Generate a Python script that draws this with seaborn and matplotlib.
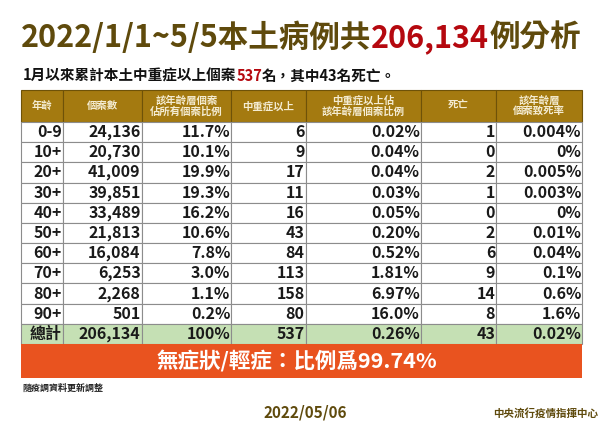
import matplotlib
matplotlib.use('Agg')
import matplotlib.pyplot as plt
import seaborn as sns

sns.set_theme(style='white')
plt.rcParams['font.family'] = ['Noto Sans CJK TC', 'DejaVu Sans']

headers = ['年齡', '個案數', '該年齡層個案\n佔所有個案比例', '中重症以上',
           '中重症以上佔\n該年齡層個案比例', '死亡', '該年齡層\n個案致死率']
ages = ['0-9', '10+', '20+', '30+', '40+', '50+', '60+', '70+', '80+', '90+', '總計']
cases = ['24,136', '20,730', '41,009', '39,851', '33,489', '21,813', '16,084', '6,253', '2,268', '501', '206,134']
case_share = ['11.7%', '10.1%', '19.9%', '19.3%', '16.2%', '10.6%', '7.8%', '3.0%', '1.1%', '0.2%', '100%']
severe = ['6', '9', '17', '11', '16', '43', '84', '113', '158', '80', '537']
severe_share = ['0.02%', '0.04%', '0.04%', '0.03%', '0.05%', '0.20%', '0.52%', '1.81%', '6.97%', '16.0%', '0.26%']
deaths = ['1', '0', '2', '1', '0', '2', '6', '9', '14', '8', '43']
fatality = ['0.004%', '0%', '0.005%', '0.003%', '0%', '0.01%', '0.04%', '0.1%', '0.6%', '1.6%', '0.02%']

BROWN = '#5f4a0c'
RED = '#b5080f'
GOLD = '#a47a10'
GREEN = '#c5e0b4'
ORANGE = '#e9531f'

W, H = 600, 425
col_edges = [21, 62.5, 141.5, 231, 305.5, 420.5, 496, 582]
top, head_bottom, bottom = 90, 122, 344
row_h = (bottom - head_bottom) / 11


def ax_x(x):
    return x / W


def ax_y(y):
    return 1 - y / H


fig = plt.figure(figsize=(6, 4.25), dpi=100, facecolor='white')
ax = fig.add_axes([0, 0, 1, 1])
ax.set_axis_off()
ax.set_xlim(0, 1)
ax.set_ylim(0, 1)


def coloured_line(parts, x, y, size):
    # lay pieces end to end, each starts where the last one stopped
    for txt, colour in parts:
        t = ax.text(ax_x(x), ax_y(y), txt, color=colour, fontsize=size, fontweight='bold',
                    ha='left', va='center')
        box = t.get_window_extent(fig.canvas.get_renderer())
        x += box.width


coloured_line([('2022/1/1~5/5本土病例共', BROWN), ('206,134', RED), ('例分析', BROWN)], 21, 38, 22)
coloured_line([('1月以來累計本土中重症以上個案', '#111111'), ('537', RED), ('名，其中43名死亡。', '#111111')], 23, 76, 10.5)

body = [list(r) for r in zip(ages, cases, case_share, severe, severe_share, deaths, fatality)]
widths = [(col_edges[i + 1] - col_edges[i]) / W for i in range(7)]
tbl = ax.table(cellText=[headers] + body, colWidths=widths, cellLoc='right',
               bbox=[ax_x(21), ax_y(bottom), (582 - 21) / W, (bottom - top) / H])
tbl.auto_set_font_size(False)

for (r, c), cell in tbl.get_celld().items():
    cell.set_height((head_bottom - top if r == 0 else row_h) / H)
    cell.set_edgecolor('#8c8c8c')
    cell.set_linewidth(0.8)
    cell.PAD = 0.8 / (col_edges[c + 1] - col_edges[c])
    txt = cell.get_text()
    txt.set_fontweight('bold')
    if r == 0:
        cell.set_facecolor(GOLD)
        cell.set_edgecolor('#6e5208')
        txt.set_color('#f4ecd2')
        txt.set_fontsize(7.5)
        txt.set_linespacing(1.15)
        txt.set_ha('center')
        cell._loc = 'center'
    else:
        cell.set_facecolor(GREEN if r == 11 else 'white')
        txt.set_color('#1a1a1a')
        txt.set_fontsize(11.5)
        if c == 0:
            cell._loc = 'center'

ax.add_patch(plt.Rectangle((ax_x(21), ax_y(378)), 561 / W, 34 / H, color=ORANGE, lw=0))
ax.text(ax_x(297), ax_y(361), '無症狀/輕症：比例爲99.74%', color='white', fontsize=15.5,
        fontweight='bold', ha='center', va='center')
ax.text(ax_x(22), ax_y(388), '隨疫調資料更新調整', color='#222222', fontsize=6.5,
        fontweight='bold', ha='left', va='center')
ax.text(ax_x(305), ax_y(413), '2022/05/06', color=BROWN, fontsize=11,
        fontweight='bold', ha='center', va='center')
ax.text(ax_x(598), ax_y(413), '中央流行疫情指揮中心', color=BROWN, fontsize=7.6,
        fontweight='bold', ha='right', va='center')

fig.savefig('out.png', dpi=100)
